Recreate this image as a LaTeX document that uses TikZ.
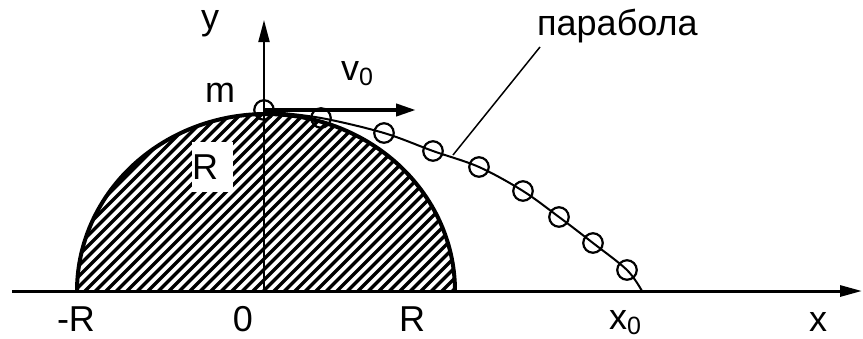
\documentclass[tikz,border=0pt]{standalone}
\usepackage{fontspec}
\setmainfont{Liberation Sans}
\usetikzlibrary{arrows.meta}
\newcommand{\subz}{\raisebox{-5pt}{\fontsize{25}{25}\selectfont 0}}
\begin{document}
\begin{tikzpicture}[x=1pt,y=-1pt,
  lbl/.style={font=\fontsize{36}{40}\selectfont, inner sep=0pt, anchor=base, text depth=0pt},
  dot/.style={circle, draw, line width=2.2pt, minimum size=19.5pt, inner sep=0pt},
  hatch/.style={line width=3.4pt},
  axis/.style={line width=3pt, -{Triangle[length=22pt,width=11pt]}},
  thin/.style={line width=2pt}]
\useasboundingbox (0,0) rectangle (863,338);
% hatching inside the half-ellipse
\begin{scope}
\clip plot[domain=180:0, samples=120] ({266+189*cos(\x)}, {291-177*sin(\x)}) -- cycle;
\foreach \c in {-260,-249.5,...,470} \draw[hatch] (\c,300) -- (\c+300,0);
\end{scope}
% label R with white box
\node[fill=white, inner sep=0pt, anchor=north west, minimum width=41pt, minimum height=50pt,
      text width=41pt, align=left, font=\fontsize{36}{40}\selectfont] (rlab) at (192,142) {R};
% outline of body
\draw[line width=4pt] plot[domain=180:0, samples=120] ({266+189*cos(\x)}, {291-177*sin(\x)});
% axes
\coordinate (xs) at (12,291);
\coordinate (xe) at (862,291);
\coordinate (o) at (264,291);
\coordinate (ytop) at (264,20);
\draw[axis] (xs) -- (xe);
\draw[axis, line width=2pt] (o) -- (ytop);
% parabola
\draw[thin] plot[smooth, tension=0.55] coordinates {(264,111) (321,118) (384,133) (433,151) (479,167) (523,191) (559,217) (593,243) (627,270) (642,291)};
\node[dot] (p1) at (264,110) {};
\node[dot] (p2) at (321,118) {};
\node[dot] (p3) at (384,133) {};
\node[dot] (p4) at (433,151) {};
\node[dot] (p5) at (479,167) {};
\node[dot] (p6) at (523,191) {};
\node[dot] (p7) at (559,217) {};
\node[dot] (p8) at (593,243) {};
\node[dot] (p9) at (627,270) {};
% velocity
\coordinate (vend) at (416,110);
\draw[line width=4pt, -{Triangle[length=20pt,width=12pt]}] (p1.center) -- (vend);
% leader line
\coordinate (lp) at (453,155);
\coordinate (le) at (540,47);
\draw[line width=1.5pt] (lp) -- (le);
% labels
\node[lbl] (ylab) at (210,29) {y};
\node[lbl] (mlab) at (220,102) {m};
\node[lbl, anchor=base west] (vlab) at (341,80) {v\subz};
\node[lbl, anchor=base west] (plab) at (537,35) {парабола};
\node[lbl] (mr) at (76,331) {-R};
\node[lbl] (zero) at (243,331) {0};
\node[lbl] (rr) at (412,331) {R};
\node[lbl, anchor=base west] (x0lab) at (609,329) {x\subz};
\node[lbl] (xlab) at (818,331) {x};
\end{tikzpicture}
\end{document}
